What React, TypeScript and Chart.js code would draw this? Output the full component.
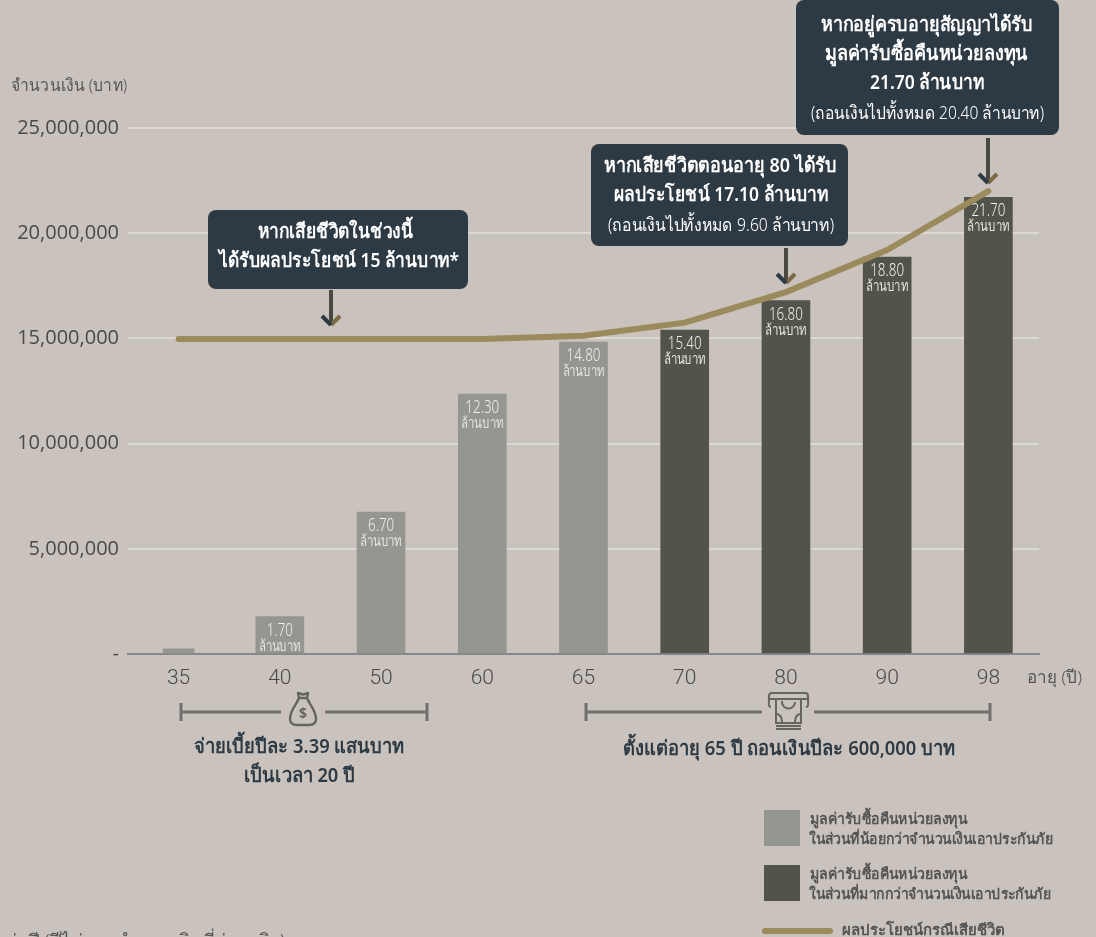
import React, { useEffect, useRef } from "react";
import { Chart, registerables } from "chart.js";

Chart.register(...registerables);

const ages = ["35", "40", "50", "60", "65", "70", "80", "90", "98"];
const firstYearValues = [240000, null, null, null, null, null, null, null, null];
const lowerValues = [null, 1780000, 6750000, 12350000, 14820000, null, null, null, null];
const higherValues = [null, null, null, null, null, 15400000, 16800000, 18860000, 21700000];
const deathBenefit = [14970000, 14970000, 14970000, 14970000, 15130000, 15750000, 17200000, 19200000, 22000000];
const barLabels = ["", "1.70", "6.70", "12.30", "14.80", "15.40", "16.80", "18.80", "21.70"];
const UNIT = "ล้านบาท";

const BG = "#c9c2bd";
const LIGHT = "#959690";
const DARK = "#52534a";
const GOLD = "#9b8a5c";
const NAVY = "#2d3a44";
const GREY = "#555555";
const THAI = "'Noto Sans', 'DejaVu Sans', sans-serif";

type Ctx = CanvasRenderingContext2D;

// Draw text squeezed horizontally into the span x0..x1 (the reference uses a condensed face).
function fit(ctx: Ctx, text: string, x0: number, x1: number, base: number, size: number, color: string, weight = 400) {
  ctx.save();
  ctx.font = `${weight} ${size}px ${THAI}`;
  ctx.fillStyle = color;
  ctx.textAlign = "left";
  ctx.textBaseline = "alphabetic";
  const w = ctx.measureText(text).width;
  ctx.translate(x0, base);
  ctx.scale((x1 - x0) / w, 1);
  ctx.fillText(text, 0, 0);
  ctx.restore();
}

function box(ctx: Ctx, x0: number, y0: number, x1: number, y1: number) {
  ctx.fillStyle = NAVY;
  ctx.beginPath();
  ctx.roundRect(x0, y0, x1 - x0, y1 - y0, 8);
  ctx.fill();
}

function arrow(ctx: Ctx, x: number, y0: number, y1: number) {
  ctx.save();
  ctx.lineWidth = 4;
  ctx.lineCap = "butt";
  ctx.strokeStyle = "#4a4740";
  ctx.beginPath();
  ctx.moveTo(x, y0);
  ctx.lineTo(x, y1 - 2);
  ctx.stroke();
  ctx.strokeStyle = "#7a6a48";
  ctx.beginPath();
  ctx.moveTo(x, y1 - 1);
  ctx.lineTo(x + 9, y1 - 10);
  ctx.stroke();
  ctx.strokeStyle = NAVY;
  ctx.beginPath();
  ctx.moveTo(x - 9, y1 - 10);
  ctx.lineTo(x, y1 - 1);
  ctx.stroke();
  ctx.restore();
}

function bracket(ctx: Ctx, x0: number, gap0: number, gap1: number, x1: number, y: number) {
  ctx.save();
  ctx.strokeStyle = "#6f6f6e";
  ctx.lineWidth = 3;
  ctx.beginPath();
  ctx.moveTo(x0, y);
  ctx.lineTo(gap0, y);
  ctx.moveTo(gap1, y);
  ctx.lineTo(x1, y);
  ctx.moveTo(x0, y - 9);
  ctx.lineTo(x0, y + 9);
  ctx.moveTo(x1, y - 9);
  ctx.lineTo(x1, y + 9);
  ctx.stroke();
  ctx.restore();
}

function moneyBag(ctx: Ctx, cx: number, top: number) {
  ctx.save();
  ctx.strokeStyle = "#66665c";
  ctx.lineWidth = 2.4;
  ctx.lineJoin = "round";
  ctx.beginPath();
  ctx.moveTo(cx - 4, top + 6);
  ctx.bezierCurveTo(cx - 6, top + 12, cx - 13, top + 18, cx - 13, top + 27);
  ctx.bezierCurveTo(cx - 13, top + 32, cx - 10, top + 33, cx - 6, top + 33);
  ctx.lineTo(cx + 6, top + 33);
  ctx.bezierCurveTo(cx + 10, top + 33, cx + 13, top + 32, cx + 13, top + 27);
  ctx.bezierCurveTo(cx + 13, top + 18, cx + 6, top + 12, cx + 4, top + 6);
  ctx.closePath();
  ctx.moveTo(cx - 4, top + 6);
  ctx.lineTo(cx - 5, top + 1);
  ctx.lineTo(cx, top + 2.5);
  ctx.lineTo(cx + 5, top + 1);
  ctx.lineTo(cx + 4, top + 6);
  ctx.stroke();
  ctx.fillStyle = "#66665c";
  ctx.font = `700 14px ${THAI}`;
  ctx.textAlign = "center";
  ctx.fillText("$", cx, top + 26);
  ctx.restore();
}

function atm(ctx: Ctx, x0: number, top: number) {
  ctx.save();
  ctx.strokeStyle = "#66665c";
  ctx.lineWidth = 2;
  ctx.beginPath();
  ctx.moveTo(x0 + 3, top + 15);
  ctx.bezierCurveTo(x0, top + 15, x0 + 1, top + 12, x0 + 1, top + 4);
  ctx.quadraticCurveTo(x0 + 1, top + 1, x0 + 4, top + 1);
  ctx.lineTo(x0 + 37, top + 1);
  ctx.quadraticCurveTo(x0 + 40, top + 1, x0 + 40, top + 4);
  ctx.bezierCurveTo(x0 + 40, top + 12, x0 + 41, top + 15, x0 + 38, top + 15);
  ctx.moveTo(x0 + 1, top + 7);
  ctx.lineTo(x0 + 40, top + 7);
  ctx.moveTo(x0 + 8, top + 7);
  ctx.lineTo(x0 + 8, top + 31);
  ctx.lineTo(x0 + 33, top + 31);
  ctx.lineTo(x0 + 33, top + 7);
  ctx.moveTo(x0 + 14, top + 9);
  ctx.arc(x0 + 20.5, top + 10, 6.5, Math.PI, 0, true);
  ctx.moveTo(x0 + 9, top + 22);
  ctx.quadraticCurveTo(x0 + 14, top + 23, x0 + 14, top + 30);
  ctx.moveTo(x0 + 32, top + 22);
  ctx.quadraticCurveTo(x0 + 27, top + 23, x0 + 27, top + 30);
  ctx.moveTo(x0 + 8, top + 34);
  ctx.lineTo(x0 + 33, top + 34);
  ctx.moveTo(x0 + 8, top + 37);
  ctx.lineTo(x0 + 33, top + 37);
  ctx.stroke();
  ctx.restore();
}

const barText = {
  id: "barText",
  afterDatasetsDraw(chart: any) {
    const ctx: Ctx = chart.ctx;
    [1, 2].forEach((di) => {
      chart.getDatasetMeta(di).data.forEach((bar: any, i: number) => {
        const t = barLabels[i];
        const ds = chart.data.datasets[di].data[i];
        if (!t || ds == null) return;
        const w = t.length > 4 ? 34 : 26;
        fit(ctx, t, bar.x - w / 2, bar.x + w / 2, bar.y + 19, 18, "#efeeea", 300);
        fit(ctx, UNIT, bar.x - 21, bar.x + 21, bar.y + 34, 15, "#e6e5e0", 300);
      });
    });
  },
};

const notes = {
  id: "notes",
  afterDraw(chart: any) {
    const ctx: Ctx = chart.ctx;
    const W = "#ffffff";
    // axis captions
    fit(ctx, "จำนวนเงิน (บาท)", 11, 127, 91, 17, GREY, 300);
    fit(ctx, "อายุ (ปี)", 1027, 1082, 683, 17, GREY, 300);

    // callouts
    box(ctx, 208, 210, 468, 289);
    fit(ctx, "หากเสียชีวิตในช่วงนี้", 258, 413, 238, 20, W, 600);
    fit(ctx, "ได้รับผลประโยชน์ 15 ล้านบาท*", 219, 459, 267, 20, W, 600);
    arrow(ctx, 331, 290, 326);

    box(ctx, 591, 144, 848, 246);
    fit(ctx, "หากเสียชีวิตตอนอายุ 80 ได้รับ", 604, 837, 172, 20, W, 600);
    fit(ctx, "ผลประโยชน์ 17.10 ล้านบาท", 614, 828, 201, 20, W, 600);
    fit(ctx, "(ถอนเงินไปทั้งหมด 9.60 ล้านบาท)", 608, 834, 231, 18, W, 300);
    arrow(ctx, 786, 248, 284);

    box(ctx, 796, 0, 1059, 135);
    fit(ctx, "หากอยู่ครบอายุสัญญาได้รับ", 821, 1033, 31, 20, W, 600);
    fit(ctx, "มูลค่ารับซื้อคืนหน่วยลงทุน", 825, 1028, 60, 20, W, 600);
    fit(ctx, "21.70 ล้านบาท", 870, 984, 89, 20, W, 600);
    fit(ctx, "(ถอนเงินไปทั้งหมด 20.40 ล้านบาท)", 811, 1044, 119, 18, W, 300);
    arrow(ctx, 988, 138, 184);

    // periods under the axis
    bracket(ctx, 181, 281, 325, 427, 712);
    moneyBag(ctx, 303, 692);
    fit(ctx, "จ่ายเบี้ยปีละ 3.39 แสนบาท", 194, 404, 753, 20, NAVY, 600);
    fit(ctx, "เป็นเวลา 20 ปี", 244, 355, 782, 20, NAVY, 600);
    bracket(ctx, 586, 762, 814, 990, 712);
    atm(ctx, 768, 692);
    fit(ctx, "ตั้งแต่อายุ 65 ปี ถอนเงินปีละ 600,000 บาท", 623, 955, 755, 20, NAVY, 600);

    // legend
    ctx.fillStyle = LIGHT;
    ctx.fillRect(764, 810, 36, 36);
    ctx.fillStyle = DARK;
    ctx.fillRect(764, 865, 36, 36);
    fit(ctx, "มูลค่ารับซื้อคืนหน่วยลงทุน", 810, 967, 824, 15, GREY, 600);
    fit(ctx, "ในส่วนที่น้อยกว่าจำนวนเงินเอาประกันภัย", 809, 1053, 844, 15, GREY, 600);
    fit(ctx, "มูลค่ารับซื้อคืนหน่วยลงทุน", 810, 967, 879, 15, GREY, 600);
    fit(ctx, "ในส่วนที่มากกว่าจำนวนเงินเอาประกันภัย", 809, 1051, 899, 15, GREY, 600);
    ctx.save();
    ctx.strokeStyle = GOLD;
    ctx.lineWidth = 6;
    ctx.lineCap = "round";
    ctx.beginPath();
    ctx.moveTo(765, 931);
    ctx.lineTo(830, 931);
    ctx.stroke();
    ctx.restore();
    fit(ctx, "ผลประโยชน์กรณีเสียชีวิต", 842, 1005, 935, 15, GREY, 600);

    // footnote, cut by the bottom of the picture
    fit(ctx, "ต่อปี (ปีไม่รวมจำนวนเงินที่จ่ายจริง)", 4, 285, 947, 18, GREY, 300);
  },
};

export default function App() {
  const ref = useRef<HTMLCanvasElement>(null);
  useEffect(() => {
    document.body.style.margin = "0";
    document.body.style.background = BG;
    const chart = new Chart(ref.current!, {
      type: "bar",
      data: {
        labels: ages,
        datasets: [
          { type: "bar", data: firstYearValues, backgroundColor: LIGHT, barThickness: 31, grouped: false, order: 3 },
          { type: "bar", data: lowerValues, backgroundColor: LIGHT, barThickness: 48, grouped: false, order: 2 },
          { type: "bar", data: higherValues, backgroundColor: DARK, barThickness: 48, grouped: false, order: 2 },
          {
            type: "line",
            data: deathBenefit,
            borderColor: GOLD,
            borderWidth: 6,
            borderCapStyle: "round",
            borderJoinStyle: "round",
            pointRadius: 0,
            tension: 0,
            order: 0,
          },
        ],
      } as any,
      options: {
        responsive: false,
        animation: false,
        devicePixelRatio: 1,
        layout: { padding: { top: 128, right: 57, left: 0, bottom: 0 } },
        plugins: { legend: { display: false }, tooltip: { enabled: false } },
        scales: {
          x: {
            afterFit: (s: any) => { s.height = 283; },
            grid: { display: false, drawTicks: false },
            border: { color: "#86878a", width: 2 },
            ticks: { color: "#4a4a4a", font: { family: "Roboto", size: 21, weight: 300 }, padding: 12, maxRotation: 0 },
          },
          y: {
            min: 0,
            max: 25000000,
            afterFit: (s: any) => { s.width = 128; },
            grid: { color: "#dbd9d5", lineWidth: 2, drawTicks: false },
            border: { display: false },
            ticks: {
              stepSize: 5000000,
              color: "#4a4a4a",
              padding: 9,
              font: { family: "'Open Sans'", size: 20 },
              callback: (v: any) => (Number(v) === 0 ? "-" : Number(v).toLocaleString("en-US")),
            },
          },
        },
      } as any,
      plugins: [barText, notes],
    });
    return () => chart.destroy();
  }, []);
  return <canvas ref={ref} width={1096} height={937} style={{ display: "block", background: BG }} />;
}
